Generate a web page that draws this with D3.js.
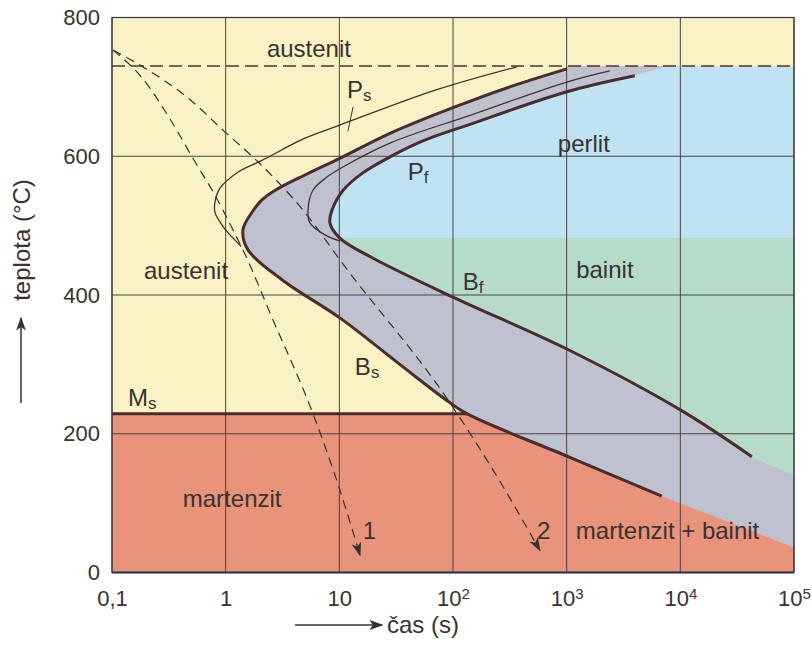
<!DOCTYPE html>
<html>
<head>
<meta charset="utf-8">
<script src="https://cdn.jsdelivr.net/npm/d3@7"></script>
<style>
  body { margin: 0; background: #fff; }
  text { font-family: "Liberation Sans", Arial, sans-serif; fill: #383232; }
</style>
</head>
<body>
<div class="chart"></div>
<script>
// axis ticks
var timeTicks = [0.1, 1, 10, 100, 1000, 10000, 100000];
var tempTicks = [0, 200, 400, 600, 800];

// characteristic temperatures (°C)
var a1Temp = 730;
var msTemp = 229;
var bainiteTemp = 482;

// [time s, temperature °C]
var startCurve = [[1004,726],[316,700],[99.8,670],[27.9,633],[10.1,597],[4.98,573],[2.73,551],[2.085,537],
  [1.70,519],[1.419,494],[1.571,465],[3.19,421],[10.1,367],[34,300],[88.3,248],[132,229],[1067,166],[6871,110]];
var startTail = [[100000,36]];
var finishCurve = [[3981,716],[1004,693],[141,646],[54.3,622],[27.9,599],[16.1,576],[10.8,551],[8.61,522],
  [8.26,504],[10.1,482],[19.8,453],[99.8,397],[1067,320],[10090,234],[42560,167]];
var finishTail = [[100000,140]];
var finishTop = [7603, 730];
var psCurve = [[365,729],[72.1,696],[10.1,645],[4.98,626],[2.085,594],[1.282,577],[0.891,554],[0.805,534],
  [0.805,519],[0.927,501],[1.047,490],[1.37,470]];
var pfCurve = [[2399,723],[1004,707],[141,659],[27.9,619],[10.1,582],[7.78,570],[5.86,551],[5.30,522],
  [5.51,504],[7.6,486],[10.1,478]];
var cooling1 = [[0.102,753],[0.184,713],[0.337,649],[0.537,592],[0.805,544],[1.159,494],[1.419,465],
  [2.61,364],[5.86,229],[9.92,123],[15.2,25]];
var cooling2 = [[0.102,753],[0.195,727],[0.466,684],[0.986,635],[1.923,592],[4.98,519],[10.96,443],
  [88.3,251],[199,162],[581,32]];

var margin = { top: 17.5, right: 18, bottom: 75.5, left: 112 };
var width = 812 - margin.left - margin.right;
var height = 648 - margin.top - margin.bottom;

var root = d3.select('.chart').append('svg')
  .attr('width', 812).attr('height', 648);

var defs = root.append('defs');
defs.append('clipPath').attr('id', 'below-bainite')
  .append('rect');
defs.append('marker').attr('id', 'arrow')
  .attr('viewBox', '0 0 10 10').attr('refX', 9).attr('refY', 5)
  .attr('markerWidth', 14).attr('markerHeight', 14).attr('markerUnits', 'userSpaceOnUse')
  .attr('orient', 'auto')
  .append('path').attr('d', 'M0,1.5L10,5L0,8.5L2.5,5Z').attr('fill', '#333');

var svg = root.append('g')
  .attr('transform', `translate(${margin.left}, ${margin.top})`);

var x = d3.scaleLog().domain([0.1, 100000]).range([0, width]);
var y = d3.scaleLinear().domain([0, 800]).range([height, 0]);

var line = d3.line()
  .x(d => x(d[0])).y(d => y(d[1]))
  .curve(d3.curveCatmullRom.alpha(0.5));
var coolLine = d3.line()
  .x(d => x(d[0])).y(d => y(d[1]))
  .curve(d3.curveMonotoneX);
var pt = d => x(d[0]) + ',' + y(d[1]);

// areas
svg.append('rect').attr('width', width).attr('height', height).attr('fill', '#f8f2c4');

svg.append('rect')
  .attr('y', y(msTemp)).attr('width', width).attr('height', height - y(msTemp))
  .attr('fill', '#e8937a');

var grayPath = line(startCurve)
  + startTail.map(d => 'L' + pt(d)).join('')
  + 'L' + pt([100000, a1Temp]) + 'L' + pt([startCurve[0][0], a1Temp]) + 'Z';
svg.append('path').attr('d', grayPath).attr('fill', '#bec2cf');

var finishPath = 'M' + pt(finishTop) + 'L' + line(finishCurve).slice(1)
  + finishTail.map(d => 'L' + pt(d)).join('')
  + 'L' + pt([100000, a1Temp]) + 'Z';
svg.append('path').attr('d', finishPath).attr('fill', '#bfe3f3');

root.select('#below-bainite rect')
  .attr('x', 0).attr('y', y(bainiteTemp)).attr('width', width).attr('height', height - y(bainiteTemp));
svg.append('path').attr('d', finishPath).attr('fill', '#b5dcc8')
  .attr('clip-path', 'url(#below-bainite)');

// grid
svg.append('g').selectAll('line').data(timeTicks).join('line')
  .attr('x1', d => x(d)).attr('x2', d => x(d)).attr('y1', 0).attr('y2', height)
  .attr('stroke', '#4a4444').attr('stroke-width', 1);
svg.append('g').selectAll('line').data(tempTicks).join('line')
  .attr('y1', d => y(d)).attr('y2', d => y(d)).attr('x1', 0).attr('x2', width)
  .attr('stroke', '#4a4444').attr('stroke-width', 1);

// A1 line
svg.append('line')
  .attr('x1', 0).attr('x2', width).attr('y1', y(a1Temp)).attr('y2', y(a1Temp))
  .attr('stroke', '#5a2e2e').attr('stroke-width', 1.6).attr('stroke-dasharray', '13,6');

// Ms line
svg.append('line')
  .attr('x1', 0).attr('x2', x(132)).attr('y1', y(msTemp)).attr('y2', y(msTemp))
  .attr('stroke', '#4a2c2e').attr('stroke-width', 3);

// curves
svg.append('path').attr('d', line(psCurve)).attr('fill', 'none')
  .attr('stroke', '#4a2c2e').attr('stroke-width', 1.3);
svg.append('path').attr('d', line(pfCurve)).attr('fill', 'none')
  .attr('stroke', '#4a2c2e').attr('stroke-width', 1.3);
svg.append('path').attr('d', line(startCurve)).attr('fill', 'none')
  .attr('stroke', '#4a2c2e').attr('stroke-width', 3);
svg.append('path').attr('d', line(finishCurve)).attr('fill', 'none')
  .attr('stroke', '#4a2c2e').attr('stroke-width', 3);

// cooling curves
[cooling1, cooling2].forEach(function(c) {
  svg.append('path').attr('d', coolLine(c)).attr('fill', 'none')
    .attr('stroke', '#333').attr('stroke-width', 1.2).attr('stroke-dasharray', '9,6')
    .attr('marker-end', 'url(#arrow)');
});

// frame
svg.append('rect').attr('width', width).attr('height', height)
  .attr('fill', 'none').attr('stroke', '#3c3640').attr('stroke-width', 1.2);
svg.append('line').attr('x1', 0).attr('x2', width).attr('y1', height).attr('y2', height)
  .attr('stroke', '#28304c').attr('stroke-width', 2);

// axes
var yAxis = svg.append('g')
  .call(d3.axisLeft(y).tickValues(tempTicks).tickSize(0).tickPadding(12));
yAxis.select('.domain').remove();
yAxis.selectAll('text').attr('font-size', 22).attr('font-family', null).attr('fill', '#383232');

var xAxis = svg.append('g')
  .attr('transform', `translate(0, ${height})`)
  .call(d3.axisBottom(x).tickValues(timeTicks).tickSize(0).tickPadding(18));
xAxis.select('.domain').remove();
xAxis.selectAll('text').attr('font-size', 22).attr('font-family', null).attr('fill', '#383232')
  .each(function(d) {
    var t = d3.select(this).text('');
    var p = Math.round(Math.log10(d));
    if (p < 0) t.text('0,1');
    else if (p === 0) t.text('1');
    else if (p === 1) t.text('10');
    else {
      t.append('tspan').text('10');
      t.append('tspan').attr('dy', '-0.5em').attr('font-size', 15).text(p);
    }
  });

// region labels
function label(txt, sub, t, T, anchor) {
  var el = svg.append('text').attr('x', x(t)).attr('y', y(T))
    .attr('font-size', 24).attr('text-anchor', anchor || 'start').text(txt);
  if (sub) el.append('tspan').attr('dy', 3).attr('font-size', 17).text(sub);
}
label('austenit', null, 5.4, 743, 'middle');
label('austenit', null, 0.448, 423, 'middle');
label('perlit', null, 1416, 606, 'middle');
label('bainit', null, 2168, 424, 'middle');
label('martenzit', null, 1.14, 94, 'middle');
label('martenzit + bainit', null, 1205, 49);
label('P', 's', 11.7, 684);
label('P', 'f', 40, 566);
label('B', 'f', 122, 407);
label('B', 's', 13.7, 284);
label('M', 's', 0.138, 240);
label('1', null, 16.1, 49);
label('2', null, 547, 49);

svg.append('line')
  .attr('x1', x(13.2)).attr('y1', y(671)).attr('x2', x(11.9)).attr('y2', y(636))
  .attr('stroke', '#4a2c2e').attr('stroke-width', 1);

// axis titles with arrows
root.append('text')
  .attr('transform', 'translate(30, 240) rotate(-90)')
  .attr('text-anchor', 'middle').attr('font-size', 24).text('teplota (°C)');
root.append('line').attr('x1', 21).attr('y1', 403).attr('x2', 21).attr('y2', 318)
  .attr('stroke', '#333').attr('stroke-width', 1.5).attr('marker-end', 'url(#arrow)');
root.append('line').attr('x1', 295).attr('y1', 625).attr('x2', 382).attr('y2', 625)
  .attr('stroke', '#333').attr('stroke-width', 1.5).attr('marker-end', 'url(#arrow)');
root.append('text').attr('x', 387).attr('y', 633).attr('font-size', 24).text('čas (s)');
</script>
</body>
</html>
